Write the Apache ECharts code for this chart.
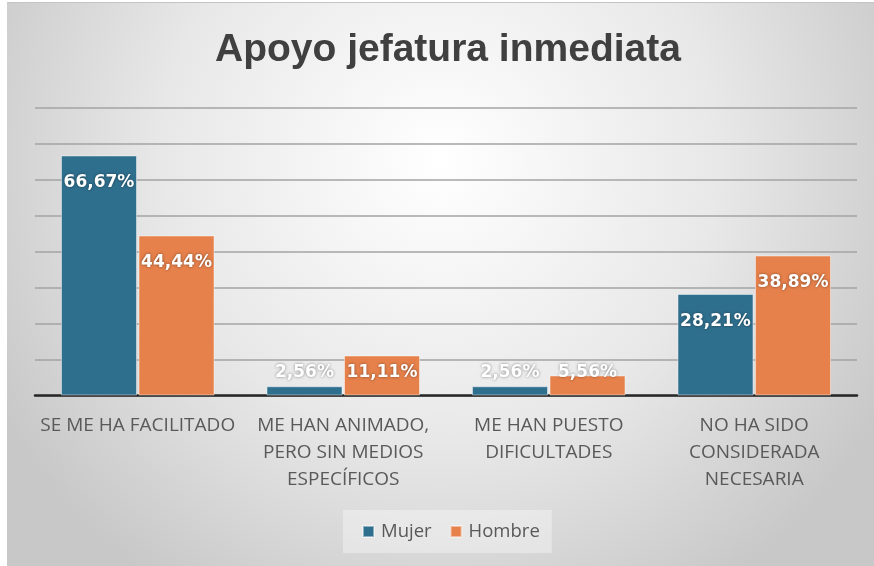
<!DOCTYPE html>
<html>
<head>
<meta charset="utf-8">
<script src="https://cdn.jsdelivr.net/npm/echarts@6/dist/echarts.min.js"></script>
<style>
html,body{margin:0;padding:0;background:#fff;width:874px;height:566px;overflow:hidden;}
#chart{position:absolute;left:7px;top:2px;width:867px;height:563px;border-top:1px solid #c4c4c4;}
</style>
</head>
<body>
<div id="chart"></div>
<script>
var titleText = 'Apoyo jefatura inmediata';
var categories = ['SE ME HA FACILITADO', 'ME HAN ANIMADO,\nPERO SIN MEDIOS\nESPECÍFICOS', 'ME HAN PUESTO\nDIFICULTADES', 'NO HA SIDO\nCONSIDERADA\nNECESARIA'];
var seriesNames = ['Mujer', 'Hombre'];
var mujer = [66.67, 2.56, 2.56, 28.21];
var hombre = [44.44, 11.11, 5.56, 38.89];
var yMax = 80;
var yInterval = 10;

var gridHeight = 288;
var pxPerUnit = gridHeight / yMax;

function fmt(v){ return v.toFixed(2).replace('.', ',') + '%'; }
function items(arr){
  return arr.map(function(v){
    var tall = v * pxPerUnit >= 49;
    return {
      value: v,
      label: tall ? {position:'insideTop', distance:19} : {position:'insideBottom', distance:14}
    };
  });
}

var labelStyle = {
  show: true,
  color: '#ffffff',
  fontFamily: 'DejaVu Sans',
  fontWeight: 'bold',
  fontSize: 17,
  textShadowColor: 'rgba(0,0,0,0.45)',
  textShadowBlur: 3,
  formatter: function(p){ return fmt(p.value); }
};

var chart = echarts.init(document.getElementById('chart'), null, {renderer:'canvas'});
chart.setOption({
  animation: false,
  backgroundColor: {
    type: 'radial', x: 0.5, y: 0.28, r: 0.9,
    colorStops: [{offset:0, color:'#ffffff'}, {offset:0.55, color:'#e8e8e8'}, {offset:1, color:'#c8c8c8'}]
  },
  title: {
    text: titleText,
    left: 203,
    top: 23,
    textStyle: {fontFamily:'Liberation Sans', fontWeight:'bold', fontSize:39, color:'#404040'}
  },
  legend: {
    data: seriesNames,
    left: 336,
    top: 507,
    orient: 'horizontal',
    itemWidth: 11,
    itemHeight: 11,
    itemGap: 18,
    icon: 'rect',
    padding: [12, 12, 12, 19],
    backgroundColor: 'rgba(255,255,255,0.35)',
    textStyle: {fontFamily:'Open Sans', fontSize:18.5, color:'#595959', padding:[0,0,0,2]}
  },
  grid: {left: 28, right: 17, top: 104.5, height: gridHeight, containLabel: false},
  xAxis: {
    type: 'category',
    data: categories,
    axisLine: {show:true, lineStyle:{color:'#262626', width:2.5}},
    axisTick: {show:false},
    axisLabel: {fontFamily:'Open Sans', fontSize:19, color:'#595959', lineHeight:27, margin:17, interval:0}
  },
  yAxis: {
    type: 'value',
    min: 0, max: yMax, interval: yInterval,
    axisLabel: {show:false},
    axisLine: {show:false},
    axisTick: {show:false},
    splitLine: {show:true, lineStyle:{color:'#a3a3a3', width:1.5}}
  },
  series: [
    {name: seriesNames[0], type:'bar', data: items(mujer), barWidth:76, barGap:'2%',
     itemStyle:{color:'#2f6f8e', borderColor:'rgba(255,255,255,0.45)', borderWidth:1},
     label: labelStyle},
    {name: seriesNames[1], type:'bar', data: items(hombre), barWidth:76, barGap:'2%',
     itemStyle:{color:'#e6814b', borderColor:'rgba(255,255,255,0.45)', borderWidth:1},
     label: labelStyle}
  ]
});
</script>
</body>
</html>
